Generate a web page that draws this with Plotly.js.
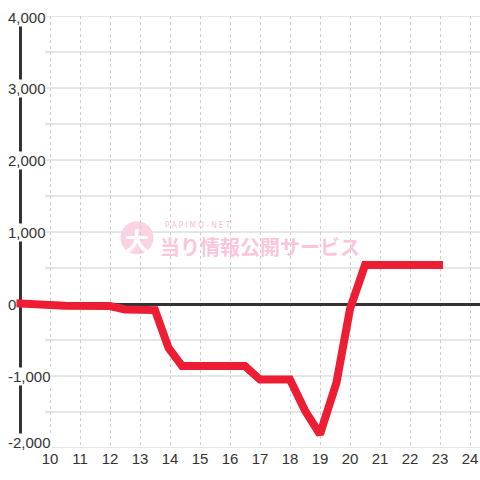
<!DOCTYPE html>
<html>
<head>
<meta charset="utf-8">
<script src="https://cdn.plot.ly/plotly-3.0.1.min.js"></script>
<style>html,body{margin:0;padding:0;background:#fff;}#chart{width:480px;height:480px;}</style>
</head>
<body>
<div id="chart"></div>
<script>
// Data (hour of day vs. medal difference)
var hours = [8.85, 10.5, 12.0, 12.5, 13.5, 13.95, 14.4, 16.5, 17.0, 18.0, 18.5, 19.0, 19.55, 20.0, 20.5, 23.1];
var diff  = [10, -25, -28, -75, -85, -610, -860, -860, -1050, -1050, -1480, -1810, -1090, -70, 540, 540];
var xTicks = [10, 11, 12, 13, 14, 15, 16, 17, 18, 19, 20, 21, 22, 23, 24];
var xTickText = ['10','11','12','13','14','15','16','17','18','19','20','21','22','23','24'];
var yLabelVals = [-2000, -1000, 0, 1000, 2000, 3000, 4000];
var yLabelText = ['-2,000', '-1,000', '0', '1,000', '2,000', '3,000', '4,000'];
var yGridVals = [-2000, -1500, -1000, -500, 0, 500, 1000, 1500, 2000, 2500, 3000, 3500, 4000];

var xMin = 8.8, xMax = 24.3333;
var shapes = [];
yGridVals.forEach(function (v) {
  shapes.push({type: 'line', layer: 'below', xref: 'x', yref: 'y',
    x0: 9.8333, x1: xMax, y0: v, y1: v, line: {color: '#cccccc', width: 1}});
});
// y axis line
shapes.push({type: 'line', layer: 'between', xref: 'x', yref: 'y',
  x0: 9.0167, x1: 9.0167, y0: -2000, y1: 4000, line: {color: '#333333', width: 3}});
// watermark circle
shapes.push({type: 'circle', layer: 'below', xref: 'x', yref: 'y',
  x0: 12.35, x1: 13.45, y0: 690, y1: 1150, fillcolor: '#fcd3e3', line: {width: 0}});

var annotations = [];
yLabelVals.forEach(function (v, i) {
  annotations.push({xref: 'paper', yref: 'y', x: -0.015, y: v, xanchor: 'left', yanchor: 'middle',
    text: yLabelText[i], showarrow: false, bgcolor: '#ffffff', borderpad: 0,
    yshift: (v === -2000 ? 6 : (v === 4000 ? -1 : 0)),
    font: {family: 'Liberation Sans, Arial, sans-serif', size: 15, color: '#333333'}});
});
annotations.push({xref: 'x', yref: 'y', x: 12.9, y: 890, text: '<b>大</b>', showarrow: false,
  font: {family: 'Noto Sans CJK JP', size: 24, color: '#ffffff'}});
annotations.push({xref: 'x', yref: 'y', x: 13.75, y: 1090, xanchor: 'left', text: 'P A P I M O - N E T', showarrow: false,
  font: {family: 'DejaVu Sans Condensed, DejaVu Sans', size: 8, color: '#fbbcd3'}});
annotations.push({xref: 'x', yref: 'y', x: 17.0, y: 800, text: '<b>当り情報公開サービス</b>', showarrow: false,
  font: {family: 'Noto Sans CJK JP', size: 20, color: '#fcc6da'}});

var trace = {
  x: hours, y: diff, type: 'scatter', mode: 'lines',
  line: {color: '#ED1E34', width: 8}, hoverinfo: 'skip'
};

var layout = {
  width: 480, height: 480,
  margin: {l: 14, r: 0, t: 16, b: 32},
  paper_bgcolor: '#ffffff', plot_bgcolor: '#ffffff',
  showlegend: false,
  xaxis: {range: [xMin, xMax], tickvals: xTicks, ticktext: xTickText, showgrid: true,
    gridcolor: '#cccccc', griddash: 'dot', gridwidth: 1, zeroline: false, showline: false,
    ticks: '', tickfont: {family: 'Liberation Sans, Arial, sans-serif', size: 15, color: '#333333'}},
  yaxis: {range: [-2000, 4000], showgrid: false, zeroline: true, zerolinecolor: '#333333', zerolinewidth: 3,
    showline: false, showticklabels: false, ticks: ''},
  shapes: shapes,
  annotations: annotations
};
Plotly.newPlot('chart', [trace], layout, {staticPlot: true, displayModeBar: false});
</script>
</body>
</html>
